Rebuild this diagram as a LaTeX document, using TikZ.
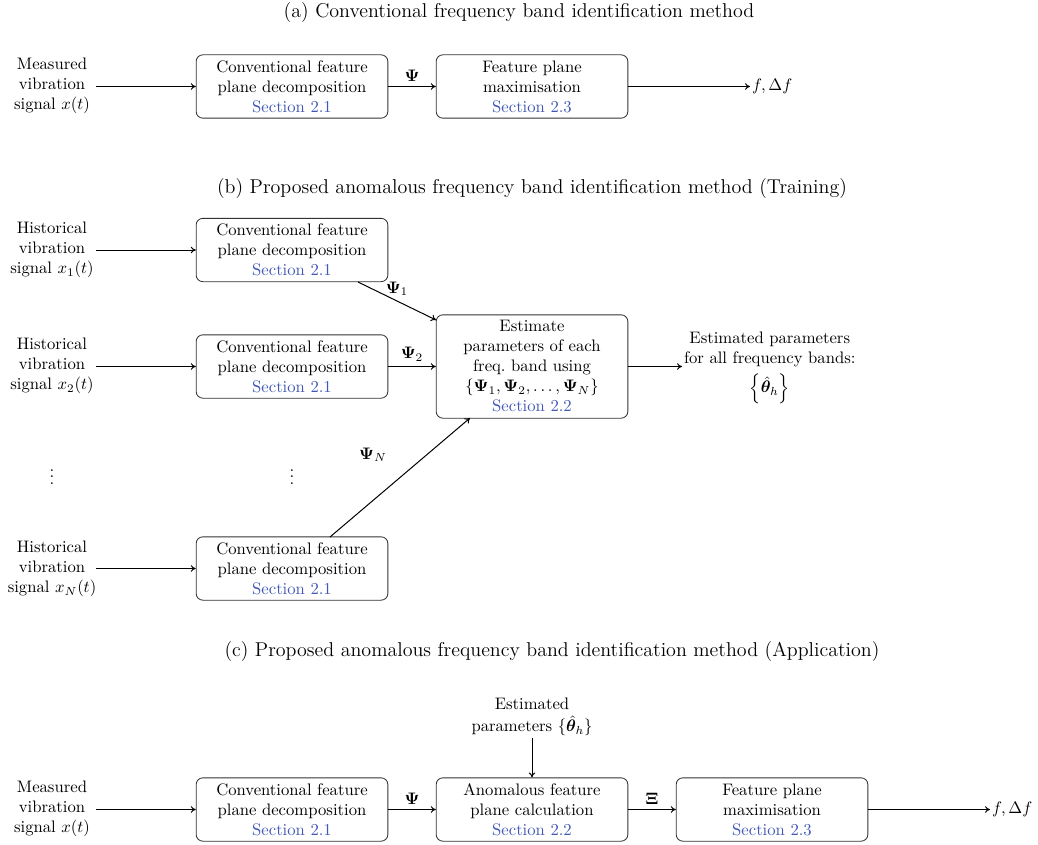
\documentclass[tikz,border=0pt]{standalone}
\usepackage{amsmath,amssymb,bm}
\usetikzlibrary{arrows.meta}
\definecolor{secblue}{RGB}{66,88,182}
\definecolor{boxline}{RGB}{50,50,50}
\newcommand{\sect}[1]{\textcolor{secblue}{Section #1}}
\begin{document}
\begin{tikzpicture}[x=0.6pt,y=-0.6pt,
  blk/.style={draw=boxline,rounded corners=4pt,minimum width=115pt,align=center,inner sep=2pt,line width=0.5pt},
  sblk/.style={blk,minimum height=38pt},
  txt/.style={align=center,inner sep=1pt},
  ttl/.style={inner sep=1pt,font=\fontsize{12}{14}\selectfont},
  conn/.style={-{To[length=3pt,width=4pt]},line width=0.6pt}]
\useasboundingbox (0,0) rectangle (1038,845);
% (a)
\node[ttl] (ta) at (519,13) {(a) Conventional frequency band identification method};
\node[txt] (ina) at (52,86) {Measured\\vibration\\signal $x(t)$};
\node[sblk] (a1) at (292,86.5) {Conventional feature\\plane decomposition\\\sect{2.1}};
\node[sblk] (a2) at (532,86.5) {Feature plane\\maximisation\\\sect{2.3}};
\coordinate (ina0) at (96,86.5);
\node[anchor=west,inner sep=1pt] (outa) at (750,86.5) {$f,\Delta f$};
\draw[conn] (ina0) -- (a1.west);
\draw[conn] (a1.east) -- node[above,inner sep=3pt] (la) {$\bm{\Psi}$} (a2.west);
\draw[conn] (a2.east) -- (outa.west);
% (b)
\node[ttl] (tb) at (532,189) {(b) Proposed anomalous frequency band identification method (Training)};
\node[txt] (inb1) at (52,250) {Historical\\vibration\\signal $x_1(t)$};
\node[txt] (inb2) at (52,366) {Historical\\vibration\\signal $x_2(t)$};
\node[txt] (inbN) at (52,569) {Historical\\vibration\\signal $x_N(t)$};
\node[sblk] (b1) at (292,250) {Conventional feature\\plane decomposition\\\sect{2.1}};
\node[sblk] (b2) at (292,366.5) {Conventional feature\\plane decomposition\\\sect{2.1}};
\node[sblk] (bN) at (292,568.5) {Conventional feature\\plane decomposition\\\sect{2.1}};
\node[blk,minimum height=62pt] (bm) at (532,366.5) {Estimate\\parameters of each\\freq.\ band using\\$\{\bm{\Psi}_1,\bm{\Psi}_2,\ldots,\bm{\Psi}_N\}$\\\sect{2.2}};
\coordinate (inb1e) at (96,250);
\coordinate (inb2e) at (96,366.5);
\coordinate (inbNe) at (96,568.5);
\draw[conn] (inb1e) -- (b1.west);
\draw[conn] (inb2e) -- (b2.west);
\draw[conn] (inbNe) -- (bN.west);
\coordinate (b1s) at (358,282);
\coordinate (bms1) at (436,320);
\draw[conn] (b1s) -- (bms1);
\node[inner sep=1pt] (lb1) at (397,289) {$\bm{\Psi}_1$};
\draw[conn] (b2.east) -- node[above,inner sep=3pt] (lb2) {$\bm{\Psi}_2$} (bm.west);
\coordinate (bNs) at (330,537);
\coordinate (bmsN) at (470,418);
\draw[conn] (bNs) -- (bmsN);
\node[inner sep=1pt] (lbN) at (373,455) {$\bm{\Psi}_N$};
\node[txt,anchor=west] (outb) at (682,368) {Estimated parameters\\for all frequency bands:\\[3pt]$\Big\{\hat{\bm{\theta}}_h\Big\}$};
\draw[conn] (bm.east) -- (outb.west |- bm.east);
\node[inner sep=0pt] (d1) at (52,472) {$\vdots$};
\node[inner sep=0pt] (d2) at (292,472) {$\vdots$};
% (c)
\node[ttl] (tc) at (552,652) {(c) Proposed anomalous frequency band identification method (Application)};
\node[txt] (inc) at (52,809) {Measured\\vibration\\signal $x(t)$};
\node[sblk] (c1) at (292,809.5) {Conventional feature\\plane decomposition\\\sect{2.1}};
\node[sblk] (c2) at (532,809.5) {Anomalous feature\\plane calculation\\\sect{2.2}};
\node[sblk] (c3) at (772,809.5) {Feature plane\\maximisation\\\sect{2.3}};
\node[txt] (est) at (532,717) {Estimated\\[1pt]parameters $\{\hat{\bm{\theta}}_h\}$};
\coordinate (ince) at (96,809.5);
\coordinate (estb) at (532,738);
\node[anchor=west,inner sep=1pt] (outc) at (990,809.5) {$f,\Delta f$};
\draw[conn] (ince) -- (c1.west);
\draw[conn] (c1.east) -- node[above,inner sep=3pt] (lc1) {$\bm{\Psi}$} (c2.west);
\draw[conn] (c2.east) -- node[above,inner sep=3pt] (lc2) {$\bm{\Xi}$} (c3.west);
\draw[conn] (c3.east) -- (outc.west);
\draw[conn] (estb) -- (c2.north);
\end{tikzpicture}
\end{document}
